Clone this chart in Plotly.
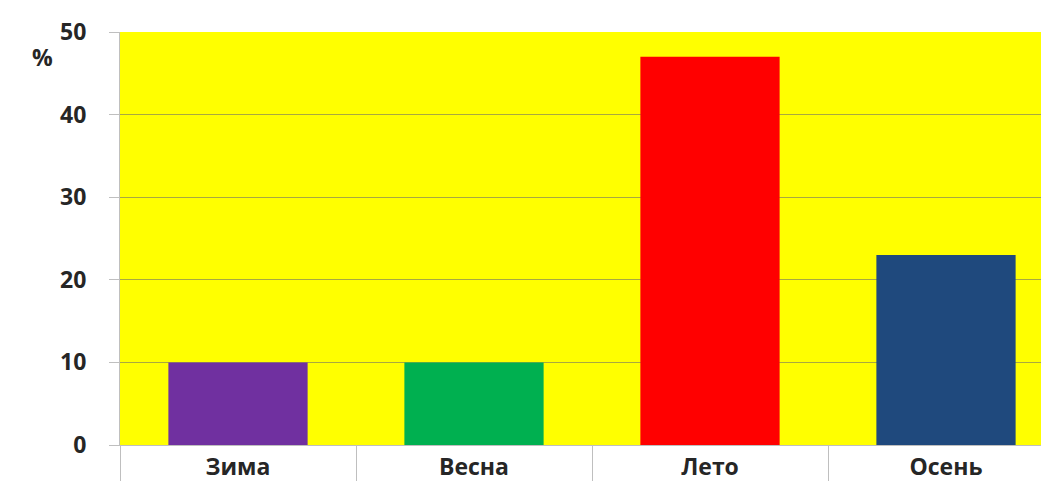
import plotly.graph_objects as go

categories = ["Зима", "Весна", "Лето", "Осень"]
values = [10, 10, 47, 23]
colors = ["#7030A0", "#00B050", "#FF0000", "#1F497D"]
y_ticks = [0, 10, 20, 30, 40, 50]

font_family = "Open Sans"
txt_color = "#262626"
fsize = 23

fig = go.Figure(
    go.Bar(
        x=categories,
        y=values,
        marker=dict(color=colors, line=dict(width=0)),
        width=0.59,
    )
)

fig.update_layout(
    width=1056,
    height=473,
    margin=dict(l=112, r=0, t=24, b=36, autoexpand=False),
    paper_bgcolor="white",
    plot_bgcolor="#FFFF00",
    showlegend=False,
    font=dict(family=font_family, color=txt_color, size=fsize),
)

fig.update_xaxes(
    automargin=False,
    showgrid=False,
    showline=True,
    linecolor="#BFBFBF",
    linewidth=1,
    ticks="outside",
    tickson="boundaries",
    ticklen=44,
    tickcolor="#BFBFBF",
    tickfont=dict(family=font_family, size=fsize, color=txt_color, weight="bold"),
    ticklabelstandoff=1,
)

fig.update_yaxes(
    automargin=False,
    range=[0, 50],
    tickvals=y_ticks,
    showgrid=True,
    gridcolor="#A8A840",
    gridwidth=1,
    showline=True,
    linecolor="#BFBFBF",
    linewidth=1,
    ticks="outside",
    ticklen=10,
    tickcolor="#BFBFBF",
    tickfont=dict(family=font_family, size=fsize, color=txt_color, weight="bold"),
    ticklabelstandoff=18,
    zeroline=False,
)

fig.add_annotation(
    text="%",
    xref="paper",
    yref="paper",
    x=-0.082,
    y=0.94,
    xanchor="center",
    yanchor="middle",
    showarrow=False,
    font=dict(family=font_family, size=fsize, color=txt_color, weight="bold"),
)

fig.write_html("out.html")
